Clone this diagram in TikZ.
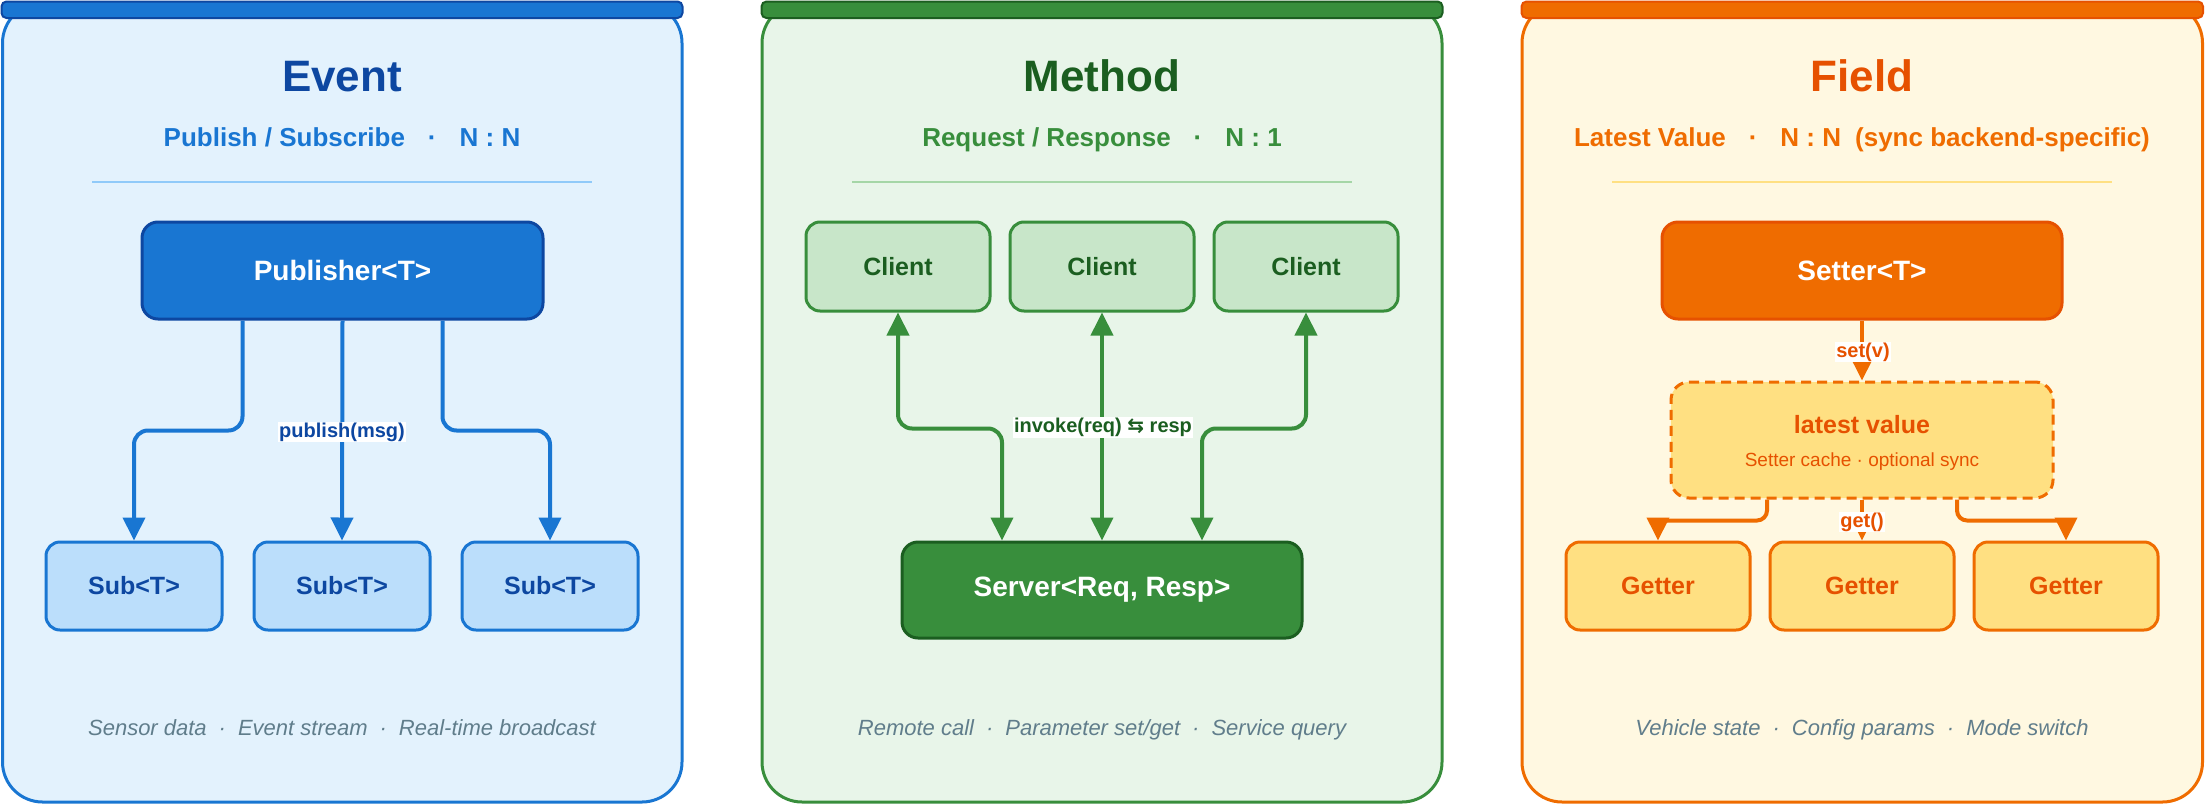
\documentclass[tikz,border=0pt]{standalone}
\usepackage{fontspec}
\setmainfont{Liberation Sans}
\newfontfamily\symfont{DejaVu Sans}
\usetikzlibrary{arrows.meta,calc}
\newcommand{\fsz}[1]{\fontsize{#1}{#1}\selectfont}
\newcommand{\bigsep}{\hspace{23pt}·\hspace{23pt}}
\newcommand{\smallsep}{\hspace{12pt}·\hspace{12pt}}
\definecolor{eBar}{HTML}{1976D2}
\definecolor{eBarD}{HTML}{0D47A1}
\definecolor{eBg}{HTML}{E3F2FD}
\definecolor{eDiv}{HTML}{90CAF9}
\definecolor{eFill}{HTML}{BBDEFB}
\definecolor{mBar}{HTML}{388E3C}
\definecolor{mBarD}{HTML}{1B5E20}
\definecolor{mBg}{HTML}{E8F5E9}
\definecolor{mDiv}{HTML}{A5D6A7}
\definecolor{mFill}{HTML}{C8E6C9}
\definecolor{fBar}{HTML}{EF6C00}
\definecolor{fBarD}{HTML}{E65100}
\definecolor{fBg}{HTML}{FFF8E1}
\definecolor{fDiv}{HTML}{FFE082}
\definecolor{fFill}{HTML}{FFE082}
\definecolor{footc}{HTML}{607D8B}
\begin{document}
\begin{tikzpicture}[x=1pt,y=-1pt,
  panel/.style={line width=3pt, rounded corners=40pt},
  topbar/.style={line width=2pt, rounded corners=5pt},
  divline/.style={line width=2pt},
  box/.style={rectangle, rounded corners=14pt, line width=3pt, inner sep=0pt, font=\bfseries\fsz{25}},
  bigbox/.style={box, rounded corners=16pt, minimum width=400pt, minimum height=97pt, font=\bfseries\fsz{28}, text=white},
  ttl/.style={anchor=base, font=\bfseries\fsz{44}},
  subt/.style={anchor=base, font=\bfseries\fsz{26}},
  foot/.style={anchor=base, font=\itshape\fsz{22}, text=footc},
  lbl/.style={fill=white, inner sep=1pt, font=\bfseries\fsz{20}},
  conn/.style={line width=4pt, rounded corners=14pt, -{Triangle[width=22pt,length=23pt]}},
  dconn/.style={line width=4pt, rounded corners=14pt, {Triangle[width=22pt,length=23pt]}-{Triangle[width=22pt,length=23pt]}}
]
\useasboundingbox (0,0) rectangle (2206,806);

% ---------- Panels ----------
\draw[panel, draw=eBar, fill=eBg] (2.5,3) rectangle (682,802);
\draw[topbar, draw=eBarD, fill=eBar] (1.5,1.5) rectangle (682.5,18);
\draw[panel, draw=mBar, fill=mBg] (762,3) rectangle (1442,802);
\draw[topbar, draw=mBarD, fill=mBar] (761.5,1.5) rectangle (1442.5,18);
\draw[panel, draw=fBar, fill=fBg] (1522,3) rectangle (2202.5,802);
\draw[topbar, draw=fBarD, fill=fBar] (1521.5,1.5) rectangle (2203,18);

% ---------- Headers ----------
\node[ttl, text=eBarD] (et) at (342,91) {Event};
\node[subt, text=eBar] (es) at (342,146) {Publish / Subscribe\bigsep N : N};
\draw[divline, draw=eDiv] (92,182) -- (592,182);

\node[ttl, text=mBarD] (mt) at (1102,91) {Method};
\node[subt, text=mBar] (ms) at (1102,146) {Request / Response\bigsep N : 1};
\draw[divline, draw=mDiv] (852,182) -- (1352,182);

\node[ttl, text=fBarD] (ft) at (1862,91) {Field};
\node[subt, text=fBar] (fs) at (1862,146) {Latest Value\bigsep N : N\hspace{14pt}(sync backend-specific)};
\draw[divline, draw=fDiv] (1612,182) -- (2112,182);

% ---------- Event ----------
\node[bigbox, draw=eBarD, fill=eBar, minimum width=401pt] (pub) at (342.5,270.5) {Publisher<T>};
\node[box, draw=eBar, fill=eFill, text=eBarD, minimum width=176pt, minimum height=88pt] (s1) at (134,586) {Sub<T>};
\node[box, draw=eBar, fill=eFill, text=eBarD, minimum width=176pt, minimum height=88pt] (s2) at (342,586) {Sub<T>};
\node[box, draw=eBar, fill=eFill, text=eBarD, minimum width=176pt, minimum height=88pt] (s3) at (550,586) {Sub<T>};
\draw[conn, draw=eBar] ($(pub.south)+(-100,0)$) -- ++(0,110) -| (s1.north);
\draw[conn, draw=eBar] (pub.south) -- (s2.north);
\draw[conn, draw=eBar] ($(pub.south)+(100,0)$) -- ++(0,110) -| (s3.north);
\node[lbl, text=eBarD] (el) at (342,432) {publish(msg)};
\node[foot] (ef) at (342,735) {Sensor data\smallsep Event stream\smallsep Real-time broadcast};

% ---------- Method ----------
\node[box, draw=mBar, fill=mFill, text=mBarD, minimum width=184pt, minimum height=89pt] (c1) at (898,266.5) {Client};
\node[box, draw=mBar, fill=mFill, text=mBarD, minimum width=184pt, minimum height=89pt] (c2) at (1102,266.5) {Client};
\node[box, draw=mBar, fill=mFill, text=mBarD, minimum width=184pt, minimum height=89pt] (c3) at (1306,266.5) {Client};
\node[bigbox, draw=mBarD, fill=mBar, minimum height=96pt] (srv) at (1102,590) {Server<Req, Resp>};
\draw[dconn, draw=mBar] (c1.south) -- ++(0,116) -| ($(srv.north)+(-100,0)$);
\draw[dconn, draw=mBar] (c2.south) -- (srv.north);
\draw[dconn, draw=mBar] (c3.south) -- ++(0,116) -| ($(srv.north)+(100,0)$);
\node[lbl, text=mBarD] (ml) at (1103,427.5) {invoke(req) {\symfont\bfseries ⇆} resp};
\node[foot] (mf) at (1102,735) {Remote call\smallsep Parameter set/get\smallsep Service query};

% ---------- Field ----------
\node[bigbox, draw=fBarD, fill=fBar] (set) at (1862,270.5) {Setter<T>};
\node[rectangle, rounded corners=18pt, line width=3pt, draw=fBar, fill=fFill, dash pattern=on 10pt off 6pt, minimum width=382pt, minimum height=116pt, inner sep=0pt] (lv) at (1862,440) {};
\node[anchor=base, font=\bfseries\fsz{25}, text=fBarD] (lvt) at (1862,433) {latest value};
\node[anchor=base, font=\fsz{19}, text=fBarD] (lvs) at (1862,466) {Setter cache · optional sync};
\node[box, draw=fBar, fill=fFill, text=fBarD, minimum width=184pt, minimum height=88pt] (g1) at (1658,586) {Getter};
\node[box, draw=fBar, fill=fFill, text=fBarD, minimum width=184pt, minimum height=88pt] (g2) at (1862,586) {Getter};
\node[box, draw=fBar, fill=fFill, text=fBarD, minimum width=184pt, minimum height=88pt] (g3) at (2066,586) {Getter};
\draw[conn, draw=fBar] (set.south) -- (lv.north);
\draw[conn, draw=fBar, rounded corners=10pt] ($(lv.south)+(-95,0)$) -- ++(0,21) -| (g1.north);
\draw[conn, draw=fBar] (lv.south) -- (g2.north);
\draw[conn, draw=fBar, rounded corners=10pt] ($(lv.south)+(95,0)$) -- ++(0,21) -| (g3.north);
\node[lbl, text=fBarD] (fl1) at (1863,352) {set(v)};
\node[lbl, text=fBarD] (fl2) at (1862,522) {get()};
\node[foot] (ff) at (1862,735) {Vehicle state\smallsep Config params\smallsep Mode switch};
\end{tikzpicture}
\end{document}
